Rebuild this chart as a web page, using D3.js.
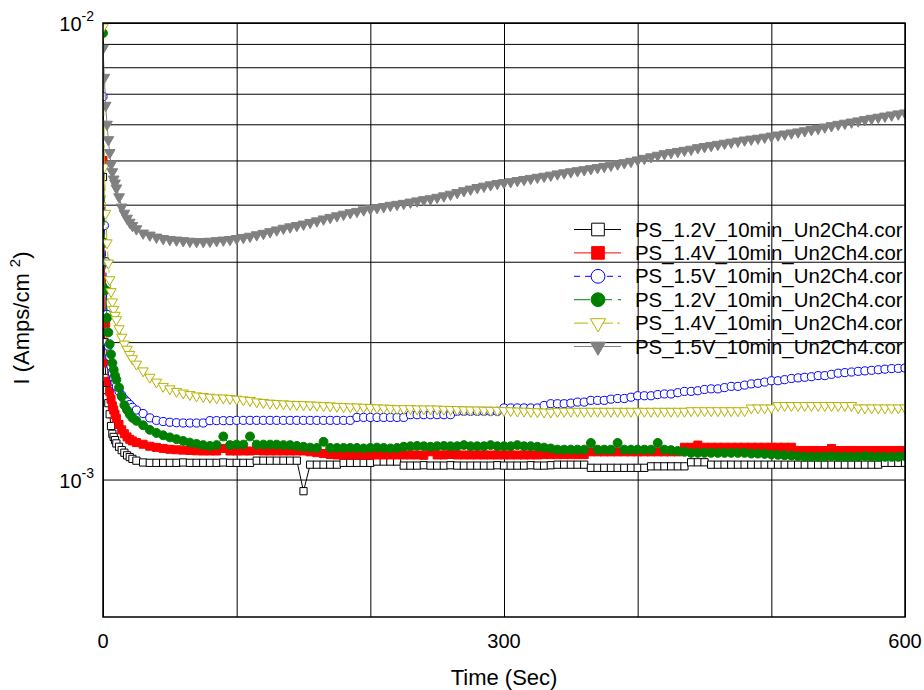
<!DOCTYPE html>
<html>
<head>
<meta charset="utf-8">
<script src="https://cdn.jsdelivr.net/npm/d3@7"></script>
<style>
  body { margin: 0; background: #fff; }
  svg text { font-family: Arial, "Liberation Sans", sans-serif; fill: #000; }
</style>
</head>
<body>
<div id="chart"></div>
<script>

// sample times (sec)
var time = [0, 1, 2, 3, 4, 5, 6, 7, 8, 9, 10, 12, 14, 16, 18, 20, 22, 25,
  30, 35, 40, 45, 50, 55, 60, 65, 70, 75,
  80, 85, 90, 95, 100, 105, 110, 115, 120, 125,
  130, 135, 140, 145, 150, 155, 160, 165, 170, 175,
  180, 185, 190, 195, 200, 205, 210, 215, 220, 225,
  230, 235, 240, 245, 250, 255, 260, 265, 270, 275,
  280, 285, 290, 295, 300, 305, 310, 315, 320, 325,
  330, 335, 340, 345, 350, 355, 360, 365, 370, 375,
  380, 385, 390, 395, 400, 405, 410, 415, 420, 425,
  430, 435, 440, 445, 450, 455, 460, 465, 470, 475,
  480, 485, 490, 495, 500, 505, 510, 515, 520, 525,
  530, 535, 540, 545, 550, 555, 560, 565, 570, 575,
  580, 585, 590, 595, 600];

// current density, in mA/cm2 (1 = 10^-3 Amps/cm2)
var ps12a = [4.6, 2.0, 1.67, 1.57, 1.47, 1.39, 1.31, 1.26, 1.24, 1.22, 1.20, 1.18, 1.16, 1.145, 1.13, 1.12, 1.11, 1.10,
  1.09, 1.088, 1.088, 1.088, 1.088, 1.088, 1.09, 1.088, 1.088, 1.088,
  1.088, 1.088, 1.09, 1.088, 1.088, 1.088, 1.088, 1.10, 1.10, 1.10,
  1.10, 1.10, 1.10, 1.10, 0.943, 1.078, 1.078, 1.078, 1.078, 1.078,
  1.088, 1.088, 1.088, 1.088, 1.088, 1.095, 1.095, 1.095, 1.095, 1.073,
  1.073, 1.073, 1.075, 1.073, 1.073, 1.073, 1.075, 1.073, 1.073, 1.073,
  1.073, 1.073, 1.073, 1.075, 1.073, 1.073, 1.073, 1.073, 1.075, 1.073,
  1.073, 1.075, 1.078, 1.078, 1.078, 1.078, 1.078, 1.061, 1.061, 1.061,
  1.061, 1.061, 1.061, 1.061, 1.061, 1.061, 1.069, 1.069, 1.069, 1.069,
  1.069, 1.069, 1.091, 1.091, 1.091, 1.078, 1.078, 1.078, 1.078, 1.078,
  1.078, 1.078, 1.078, 1.078, 1.078, 1.078, 1.078, 1.078, 1.078, 1.078,
  1.078, 1.078, 1.078, 1.078, 1.078, 1.078, 1.078, 1.078, 1.078, 1.078,
  1.078, 1.088, 1.088, 1.088, 1.088];

var ps14a = [5.0, 3.0, 2.2, 1.8, 1.64, 1.56, 1.50, 1.45, 1.42, 1.39, 1.36, 1.32, 1.285, 1.26, 1.24, 1.225, 1.215, 1.205,
  1.195, 1.183, 1.176, 1.17, 1.165, 1.162, 1.16, 1.158, 1.156, 1.155,
  1.155, 1.155, 1.17, 1.155, 1.155, 1.155, 1.155, 1.158, 1.155, 1.155,
  1.155, 1.155, 1.155, 1.155, 1.155, 1.15, 1.145, 1.14, 1.135, 1.132,
  1.132, 1.132, 1.132, 1.132, 1.132, 1.132, 1.132, 1.132, 1.132, 1.132,
  1.132, 1.132, 1.13, 1.15, 1.132, 1.132, 1.135, 1.132, 1.132, 1.132,
  1.132, 1.132, 1.132, 1.132, 1.132, 1.132, 1.132, 1.132, 1.132, 1.132,
  1.134, 1.134, 1.134, 1.134, 1.134, 1.134, 1.134, 1.15, 1.15, 1.15,
  1.15, 1.15, 1.15, 1.15, 1.15, 1.15, 1.15, 1.15, 1.15, 1.15,
  1.15, 1.177, 1.177, 1.19, 1.177, 1.177, 1.177, 1.177, 1.177, 1.177,
  1.177, 1.177, 1.177, 1.177, 1.177, 1.177, 1.177, 1.177, 1.158, 1.158,
  1.158, 1.158, 1.158, 1.17, 1.158, 1.158, 1.158, 1.158, 1.158, 1.158,
  1.158, 1.158, 1.158, 1.158, 1.158];

var ps15a = [6.9, 3.6, 3.0, 2.3, 1.96, 1.86, 1.77, 1.71, 1.67, 1.63, 1.60, 1.56, 1.53, 1.50, 1.48, 1.46, 1.44, 1.42,
  1.395, 1.365, 1.348, 1.34, 1.335, 1.332, 1.33, 1.33, 1.33, 1.33,
  1.346, 1.346, 1.346, 1.346, 1.348, 1.348, 1.348, 1.348, 1.348, 1.348,
  1.348, 1.348, 1.348, 1.348, 1.348, 1.348, 1.348, 1.348, 1.348, 1.348,
  1.348, 1.348, 1.368, 1.368, 1.368, 1.368, 1.368, 1.368, 1.368, 1.368,
  1.387, 1.387, 1.387, 1.387, 1.387, 1.387, 1.387, 1.411, 1.411, 1.411,
  1.411, 1.411, 1.411, 1.411, 1.435, 1.435, 1.435, 1.435, 1.435, 1.435,
  1.453, 1.466, 1.466, 1.466, 1.47, 1.478, 1.478, 1.491, 1.491, 1.491,
  1.50, 1.505, 1.505, 1.515, 1.526, 1.526, 1.526, 1.535, 1.54, 1.54,
  1.55, 1.56, 1.56, 1.565, 1.575, 1.58, 1.58, 1.59, 1.60, 1.60,
  1.61, 1.62, 1.625, 1.635, 1.646, 1.646, 1.655, 1.665, 1.67, 1.675,
  1.68, 1.689, 1.689, 1.70, 1.71, 1.715, 1.72, 1.726, 1.73, 1.735,
  1.74, 1.745, 1.75, 1.752, 1.755];

var ps12b = [9.5, 3.3, 2.6, 2.26, 2.1, 1.98, 1.88, 1.80, 1.74, 1.69, 1.655, 1.59, 1.52, 1.455, 1.42, 1.39, 1.365, 1.345,
  1.315, 1.285, 1.265, 1.25, 1.237, 1.226, 1.215, 1.205, 1.197, 1.19,
  1.185, 1.19, 1.243, 1.19, 1.193, 1.193, 1.243, 1.193, 1.193, 1.193,
  1.193, 1.19, 1.19, 1.185, 1.18, 1.175, 1.173, 1.21, 1.173, 1.173,
  1.173, 1.173, 1.173, 1.17, 1.173, 1.175, 1.173, 1.17, 1.173, 1.18,
  1.183, 1.185, 1.183, 1.18, 1.183, 1.185, 1.183, 1.183, 1.19, 1.183,
  1.183, 1.183, 1.19, 1.183, 1.183, 1.183, 1.19, 1.183, 1.183, 1.18,
  1.175, 1.17, 1.163, 1.163, 1.163, 1.163, 1.163, 1.203, 1.163, 1.163,
  1.163, 1.203, 1.163, 1.163, 1.163, 1.163, 1.163, 1.203, 1.163, 1.16,
  1.155, 1.15, 1.144, 1.144, 1.144, 1.144, 1.144, 1.144, 1.144, 1.144,
  1.144, 1.14, 1.14, 1.138, 1.135, 1.133, 1.13, 1.128, 1.125, 1.121,
  1.121, 1.121, 1.121, 1.125, 1.121, 1.121, 1.121, 1.121, 1.125, 1.121,
  1.121, 1.121, 1.121, 1.121, 1.125];

var ps14b = [9.8, 4.84, 3.83, 3.3, 2.98, 2.74, 2.58, 2.45, 2.36, 2.29, 2.24, 2.14, 2.05, 1.98, 1.93, 1.88, 1.84, 1.79,
  1.73, 1.675, 1.635, 1.60, 1.58, 1.56, 1.547, 1.535, 1.525, 1.52,
  1.515, 1.51, 1.509, 1.505, 1.50, 1.495, 1.49, 1.48, 1.475, 1.47,
  1.468, 1.465, 1.462, 1.46, 1.459, 1.457, 1.455, 1.452, 1.45, 1.447,
  1.445, 1.443, 1.442, 1.44, 1.438, 1.436, 1.434, 1.432, 1.43, 1.43,
  1.43, 1.428, 1.428, 1.428, 1.427, 1.425, 1.424, 1.423, 1.421, 1.42,
  1.42, 1.419, 1.418, 1.418, 1.416, 1.415, 1.413, 1.412, 1.41, 1.408,
  1.406, 1.405, 1.41, 1.411, 1.411, 1.411, 1.411, 1.411, 1.411, 1.411,
  1.411, 1.411, 1.411, 1.411, 1.411, 1.411, 1.411, 1.411, 1.411, 1.411,
  1.411, 1.411, 1.415, 1.415, 1.415, 1.415, 1.415, 1.415, 1.415, 1.415,
  1.415, 1.435, 1.435, 1.435, 1.435, 1.453, 1.453, 1.453, 1.453, 1.453,
  1.453, 1.453, 1.453, 1.453, 1.453, 1.453, 1.453, 1.435, 1.435, 1.435,
  1.435, 1.435, 1.435, 1.435, 1.435];

var ps15b = [8.8, 7.6, 6.6, 6.0, 5.55, 5.2, 4.9, 4.72, 4.55, 4.46, 4.35, 4.16, 3.95, 3.83, 3.735, 3.66, 3.60, 3.54,
  3.465, 3.43, 3.395, 3.37, 3.355, 3.345, 3.335, 3.325, 3.32, 3.32,
  3.325, 3.335, 3.345, 3.355, 3.37, 3.39, 3.41, 3.435, 3.46, 3.49,
  3.52, 3.55, 3.575, 3.60, 3.625, 3.655, 3.685, 3.72, 3.75, 3.78,
  3.81, 3.84, 3.865, 3.895, 3.92, 3.94, 3.96, 3.985, 4.005, 4.025,
  4.05, 4.075, 4.10, 4.12, 4.15, 4.18, 4.215, 4.25, 4.29, 4.325,
  4.36, 4.39, 4.42, 4.45, 4.47, 4.49, 4.515, 4.54, 4.565, 4.59,
  4.615, 4.64, 4.67, 4.695, 4.72, 4.745, 4.77, 4.795, 4.82, 4.85,
  4.88, 4.91, 4.94, 4.975, 5.01, 5.05, 5.09, 5.13, 5.17, 5.20,
  5.23, 5.26, 5.29, 5.33, 5.36, 5.39, 5.42, 5.45, 5.48, 5.51,
  5.54, 5.565, 5.59, 5.62, 5.65, 5.68, 5.71, 5.74, 5.77, 5.805,
  5.84, 5.875, 5.915, 5.955, 5.995, 6.03, 6.065, 6.10, 6.14, 6.18,
  6.215, 6.25, 6.285, 6.32, 6.35];

var seriesNames = ['PS_1.2V_10min_Un2Ch4.cor', 'PS_1.4V_10min_Un2Ch4.cor', 'PS_1.5V_10min_Un2Ch4.cor',
  'PS_1.2V_10min_Un2Ch4.cor', 'PS_1.4V_10min_Un2Ch4.cor', 'PS_1.5V_10min_Un2Ch4.cor'];

var xTicks = [0, 300, 600];
var xGrid = [0, 100, 200, 300, 400, 500, 600];
var yTicks = [1, 10];
var yTickExp = ['-3', '-2'];
var yGrid = [1, 2, 3, 4, 5, 6, 7, 8, 9, 10];

var width = 924;
var height = 690;
var plotLeft = 103, plotRight = 905, plotTop = 23, plotBottom = 617;

var svg = d3.select('#chart').append('svg')
  .attr('width', width)
  .attr('height', height);

// scales
var xScale = d3.scaleLinear()
  .domain([0, 600])
  .range([plotLeft, plotRight]);

var yScale = d3.scaleLog()
  .domain([0.5, 10])
  .range([plotBottom, plotTop]);

// grid
svg.append('g')
  .attr('class', 'grid')
  .attr('transform', 'translate(0,' + plotBottom + ')')
  .call(d3.axisBottom(xScale).tickValues(xGrid).tickSize(-(plotBottom - plotTop)).tickFormat(''))
  .call(function(g) { g.select('.domain').remove(); });

svg.append('g')
  .attr('class', 'grid')
  .attr('transform', 'translate(' + plotLeft + ',0)')
  .call(d3.axisLeft(yScale).tickValues(yGrid).tickSize(-(plotRight - plotLeft)).tickFormat(''))
  .call(function(g) { g.select('.domain').remove(); });

svg.selectAll('.grid line')
  .attr('stroke', '#000')
  .attr('stroke-width', 1);

// series styles
var series = [
  { values: ps12a, color: '#000000', symbol: d3.symbolSquare, size: 52, open: true, down: false, dash: null },
  { values: ps14a, color: '#ff0000', symbol: d3.symbolSquare, size: 64, open: false, down: false, dash: null },
  { values: ps15a, color: '#0000ff', symbol: d3.symbolCircle, size: 52, open: true, down: false, dash: '6,5' },
  { values: ps12b, color: '#008000', symbol: d3.symbolCircle, size: 62, open: false, down: false, dash: '16,6' },
  { values: ps14b, color: '#b4b400', symbol: d3.symbolTriangle, size: 46, open: true, down: true, dash: '14,4,3,4' },
  { values: ps15b, color: '#808080', symbol: d3.symbolTriangle, size: 50, open: false, down: true, dash: null }
];

svg.append('clipPath')
  .attr('id', 'plotClip')
  .append('rect')
  .attr('x', plotLeft)
  .attr('y', plotTop)
  .attr('width', plotRight - plotLeft)
  .attr('height', plotBottom - plotTop);

var plot = svg.append('g')
  .attr('clip-path', 'url(#plotClip)');

var line = d3.line()
  .x(function(d) { return xScale(d.t); })
  .y(function(d) { return yScale(d.v); });

series.forEach(function(s) {
  var points = s.values.map(function(v, i) {
    return { t: time[i], v: v };
  });

  plot.append('path')
    .datum(points)
    .attr('fill', 'none')
    .attr('stroke', s.color)
    .attr('stroke-width', 1)
    .attr('stroke-dasharray', s.dash)
    .attr('d', line);

  plot.append('g')
    .selectAll('path')
    .data(points)
    .enter()
    .append('path')
    .attr('transform', function(d) {
      return 'translate(' + xScale(d.t) + ',' + yScale(d.v) + ')' + (s.down ? ' rotate(180)' : '');
    })
    .attr('d', d3.symbol().type(s.symbol).size(s.size))
    .attr('fill', s.open ? '#fff' : s.color)
    .attr('stroke', s.color)
    .attr('stroke-width', 1);
});

// frame
svg.append('rect')
  .attr('x', plotLeft)
  .attr('y', plotTop)
  .attr('width', plotRight - plotLeft)
  .attr('height', plotBottom - plotTop)
  .attr('fill', 'none')
  .attr('stroke', '#000')
  .attr('stroke-width', 1.5);

// tick labels
svg.selectAll('.xlabel')
  .data(xTicks)
  .enter()
  .append('text')
  .attr('class', 'xlabel')
  .attr('x', function(d) { return xScale(d); })
  .attr('y', 648)
  .attr('text-anchor', 'middle')
  .style('font-size', '20px')
  .text(function(d) { return d; });

var ylab = svg.selectAll('.ylabel')
  .data(yTicks)
  .enter()
  .append('text')
  .attr('class', 'ylabel')
  .attr('x', 94)
  .attr('y', function(d) { return yScale(d) + 8; })
  .attr('text-anchor', 'end')
  .style('font-size', '20px');

ylab.append('tspan').text('10');
ylab.append('tspan')
  .attr('dy', -10)
  .style('font-size', '14px')
  .text(function(d, i) { return yTickExp[i]; });

// axis titles
svg.append('text')
  .attr('x', (plotLeft + plotRight) / 2)
  .attr('y', 685)
  .attr('text-anchor', 'middle')
  .style('font-size', '22px')
  .text('Time (Sec)');

var ytitle = svg.append('text')
  .attr('transform', 'translate(29,318) rotate(-90)')
  .attr('text-anchor', 'middle')
  .style('font-size', '22px');
ytitle.append('tspan').text('I (Amps/cm ');
ytitle.append('tspan').attr('dy', -9).style('font-size', '15px').text('2');
ytitle.append('tspan').attr('dy', 9).text(')');

// legend
var legend = svg.append('g')
  .selectAll('g')
  .data(series)
  .enter()
  .append('g')
  .attr('transform', function(d, i) {
    return 'translate(0,' + (229.5 + i * 23.4) + ')';
  });

legend.append('line')
  .attr('x1', 574)
  .attr('x2', 621)
  .attr('stroke', function(d) { return d.color; })
  .attr('stroke-width', 1)
  .attr('stroke-dasharray', function(d) { return d.dash; });

legend.append('path')
  .attr('transform', function(d) { return 'translate(598,0)' + (d.down ? ' rotate(180)' : ''); })
  .attr('d', function(d) {
    var sz = d.symbol === d3.symbolSquare ? 160 : (d.symbol === d3.symbolCircle ? 150 : 100);
    return d3.symbol().type(d.symbol).size(sz)();
  })
  .attr('fill', function(d) { return d.open ? '#fff' : d.color; })
  .attr('stroke', function(d) { return d.color; })
  .attr('stroke-width', 1);

legend.append('text')
  .attr('x', 635)
  .attr('y', 7)
  .style('font-size', '20.4px')
  .text(function(d, i) { return seriesNames[i]; });

</script>
</body>
</html>
